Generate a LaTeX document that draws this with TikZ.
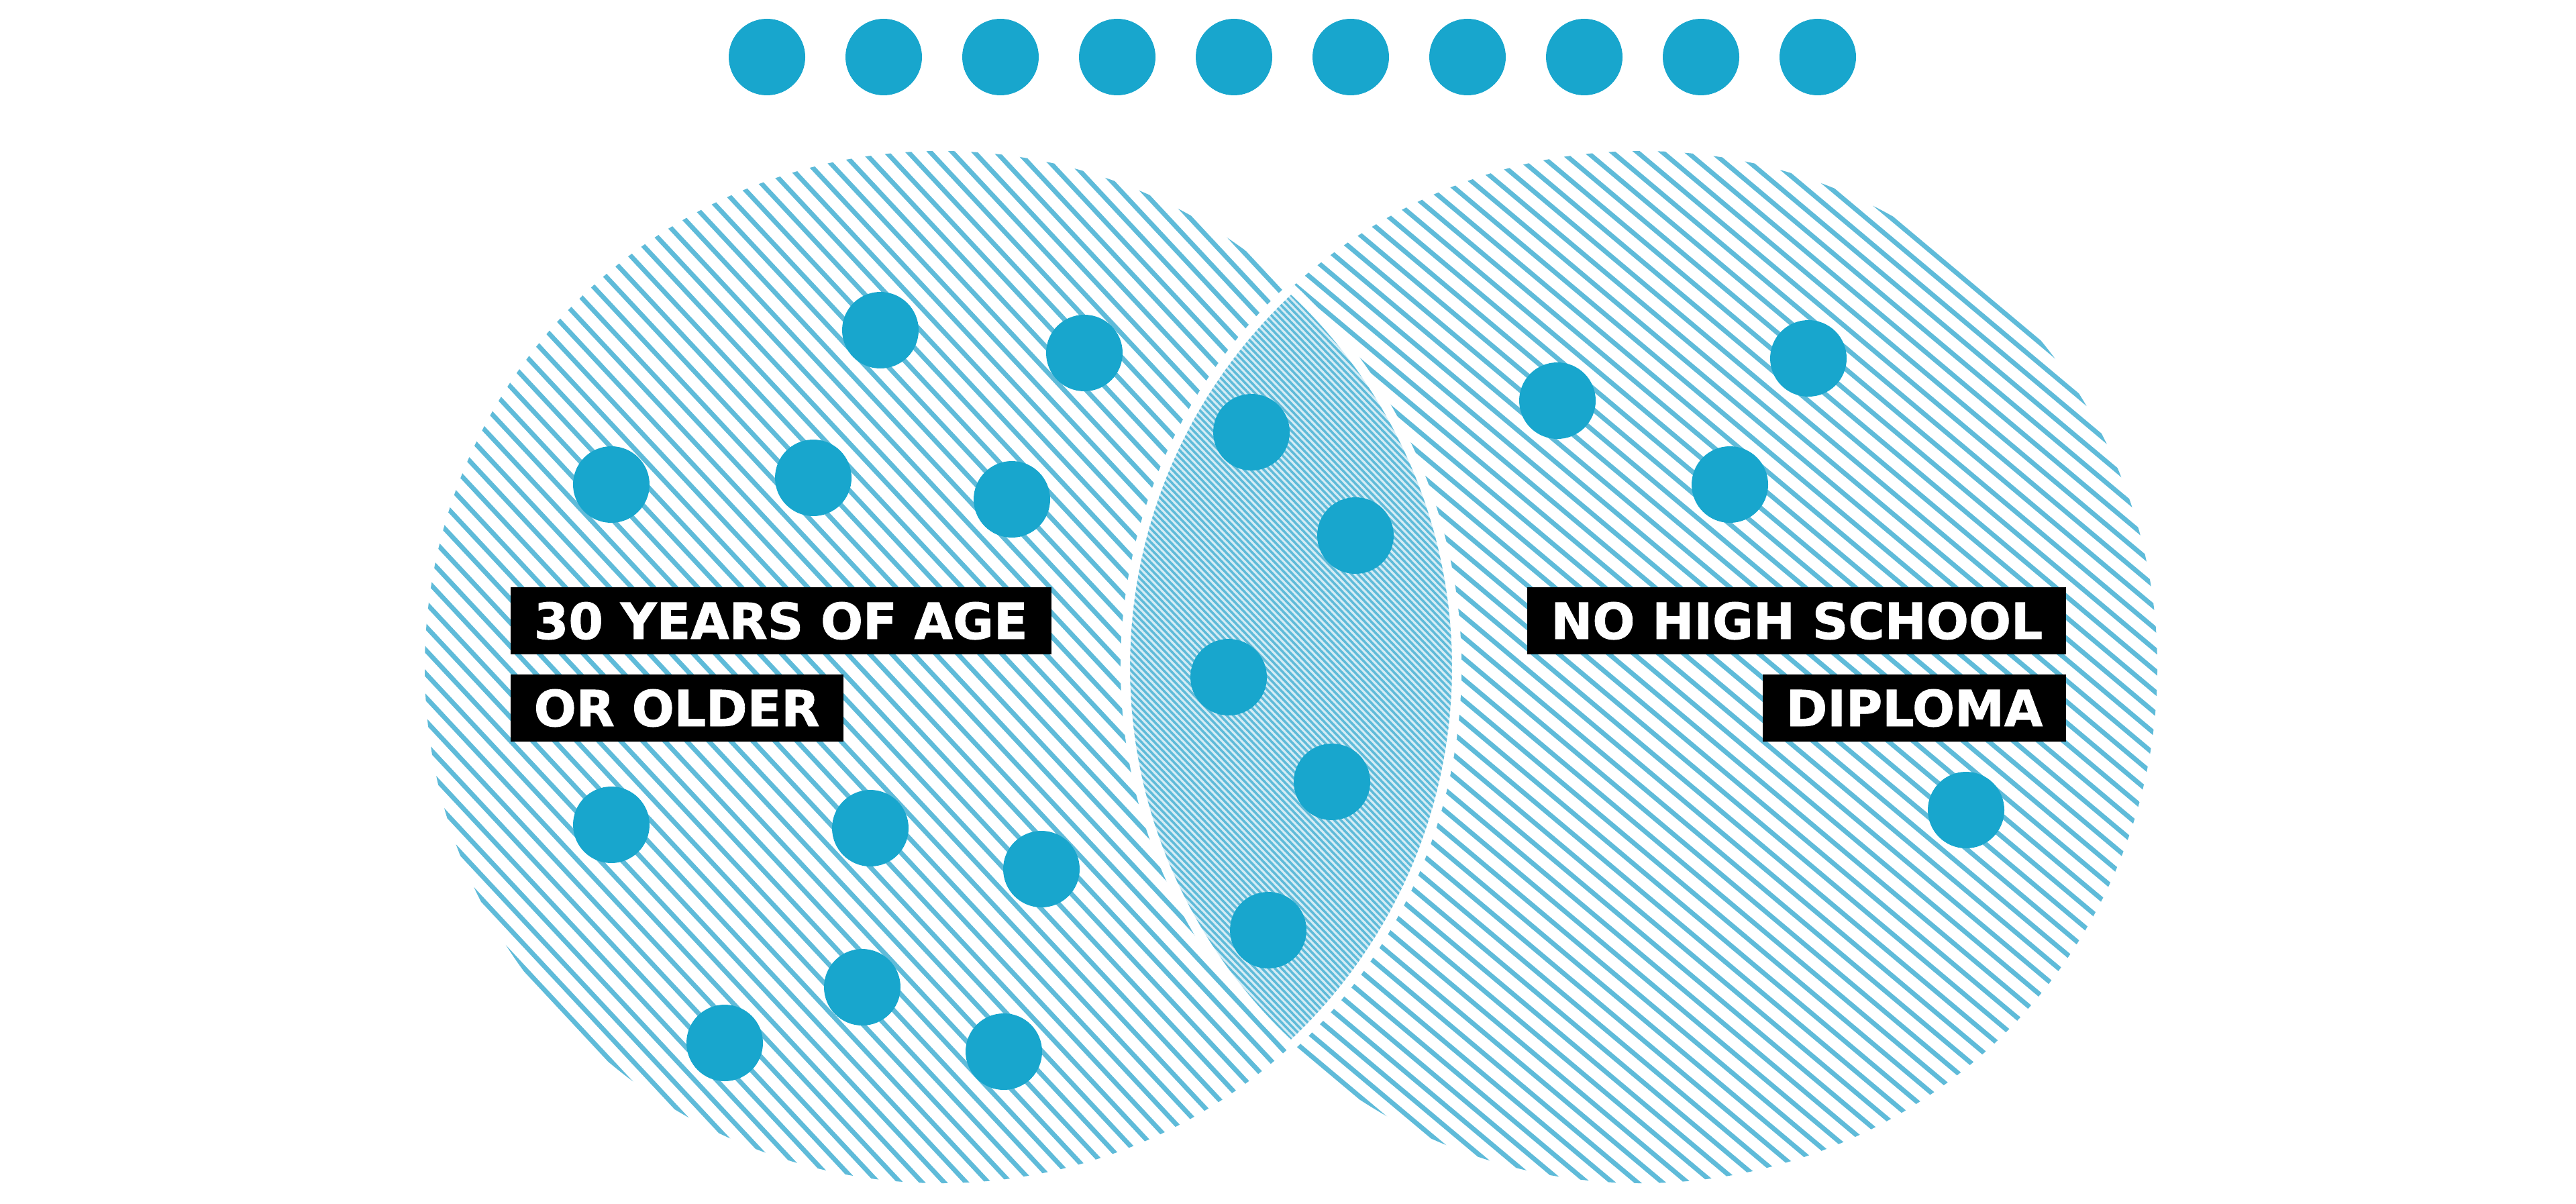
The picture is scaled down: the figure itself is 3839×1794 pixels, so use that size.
\documentclass[tikz,border=0pt]{standalone}
\usepackage{fontspec}
\newfontfamily\labelfont{DejaVu Sans}[BoldFeatures = {FakeBold = 1.2}]
\definecolor{dotblue}{RGB}{24,166,205}
\definecolor{hatchblue}{RGB}{95,187,217}
\definecolor{paleblue}{RGB}{212,236,245}
\tikzset{
	tagbox/.style = {fill = black, text = white, font = \labelfont\bfseries\fontsize{21.1}{24}\selectfont, inner xsep = 0.35cm, inner ysep = 0.23cm, text height = 0.54cm, text depth = 0cm},
	hatch/.style = {hatchblue, line width = 2pt},
	fine hatch/.style = {hatchblue, line width = 1pt},
	lens edge/.style = {white, line width = 4pt},
}
\begin{document}
\begin{tikzpicture}[x = 0.01cm, y = -0.01cm]
	%	canvas
	\useasboundingbox (0, 0) rectangle (3839, 1794);
	
	%	circle setup
	\def\rad{769}
	\def\ymid{994}
	\def\xleft{1402}
	\def\xright{2446}
	\def\dotr{57}
	
	%	left circle hatching
	\begin{scope}
		\clip (\xleft, \ymid) circle (\rad);
		\def\ang{47}
		\foreach \k in {-800, -776, ..., 800}
			\draw[hatch] ({\xleft - \k*sin(\ang) - 800*cos(\ang)}, {\ymid + \k*cos(\ang) - 800*sin(\ang)}) -- ({\xleft - \k*sin(\ang) + 800*cos(\ang)}, {\ymid + \k*cos(\ang) + 800*sin(\ang)});
	\end{scope}
	
	%	right circle hatching
	\begin{scope}
		\clip (\xright, \ymid) circle (\rad);
		\def\ang{40}
		\foreach \k in {-800, -776, ..., 800}
			\draw[hatch] ({\xright - \k*sin(\ang) - 800*cos(\ang)}, {\ymid + \k*cos(\ang) - 800*sin(\ang)}) -- ({\xright - \k*sin(\ang) + 800*cos(\ang)}, {\ymid + \k*cos(\ang) + 800*sin(\ang)});
	\end{scope}
	
	%	overlap
	\begin{scope}
		\clip (\xleft, \ymid) circle (\rad);
		\clip (\xright, \ymid) circle (\rad);
		\fill[paleblue] (1500, 0) rectangle (2400, 1794);
		\def\ang{46}
		\def\xmid{1924}
		\foreach \k in {-700, -693, ..., 700}
			\draw[fine hatch] ({\xmid - \k*sin(\ang) - 700*cos(\ang)}, {\ymid + \k*cos(\ang) - 700*sin(\ang)}) -- ({\xmid - \k*sin(\ang) + 700*cos(\ang)}, {\ymid + \k*cos(\ang) + 700*sin(\ang)});
	\end{scope}
	
	%	white rim of the overlap
	\begin{scope}
		\clip (\xleft, \ymid) circle (\rad);
		\draw[lens edge] (\xright, \ymid) circle (\rad);
	\end{scope}
	\begin{scope}
		\clip (\xright, \ymid) circle (\rad);
		\draw[lens edge] (\xleft, \ymid) circle (\rad);
	\end{scope}
	
	%	dots
	\foreach \x in {0, ..., 9}
		\fill[dotblue] ({1143 + 174*\x}, 85) circle (\dotr);
	\foreach \x/\y in {1312/492, 1616/526, 911/722, 1212/712, 1508/744, 911/1229, 1297/1234, 1552/1295, 1285/1471, 1080/1554, 1496/1567, 1865/644, 2020/798, 1831/1009, 1985/1165, 1890/1386, 2321/597, 2695/534, 2578/722, 2930/1207}
		\fill[dotblue] (\x, \y) circle (\dotr);
	
	%	labels
	\node[tagbox, anchor = west] (ageTop) at (760, 925) {30 YEARS OF AGE};
	\node[tagbox, anchor = west] (ageBottom) at (760, 1055) {OR OLDER};
	\node[tagbox, anchor = east] (schoolTop) at (3080, 925) {NO HIGH SCHOOL};
	\node[tagbox, anchor = east] (schoolBottom) at (3080, 1055) {DIPLOMA};
\end{tikzpicture}
\end{document}
